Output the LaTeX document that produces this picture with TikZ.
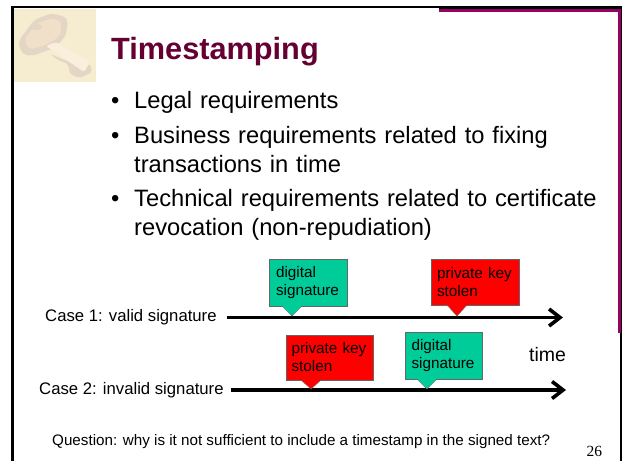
\documentclass[tikz,border=0pt]{standalone}
\usepackage{fontspec}
\setmainfont{Liberation Sans}
\newfontfamily\numfont{Liberation Serif}
\usetikzlibrary{arrows.meta}
\definecolor{maroon}{RGB}{102,0,51}
\definecolor{framepink}{RGB}{153,0,102}
\definecolor{siggreen}{RGB}{0,204,153}
\definecolor{keybg}{RGB}{246,236,208}
\definecolor{keyhead}{RGB}{240,224,202}
\definecolor{keyshade}{RGB}{228,214,196}
\definecolor{keylight}{RGB}{250,238,220}
\tikzstyle{title} = [anchor=base west, inner sep=0pt, font=\bfseries\fontsize{30.7}{30}\selectfont, text=maroon]
\tikzstyle{bullet} = [anchor=base west, inner sep=0pt, font=\fontsize{23.7}{29}\selectfont, text width=485pt, align=left]
\tikzstyle{label} = [anchor=base west, inner sep=0pt, font=\fontsize{16.7}{18}\selectfont]
\tikzstyle{sigbox} = [rectangle, draw=black!60, fill=siggreen, inner sep=0pt, font=\fontsize{15.3}{18}\selectfont, align=left, text width=64pt]
\tikzstyle{keybox} = [rectangle, draw=black!60, fill=red, inner sep=0pt, font=\fontsize{15.3}{18}\selectfont, align=left, text width=76pt]
\tikzstyle{arrow} = [line width=3.6pt, -{Straight Barb[length=11pt, width=17pt]}]

\begin{document}
\begin{tikzpicture}[x=1pt, y=-1pt]
\useasboundingbox (0,0) rectangle (622,461);
\fill[white] (0,0) rectangle (622,461);

%% frame
\fill[black] (11,6) rectangle (622,8);
\fill[black] (11,6) rectangle (14,461);
\fill[black] (439,6) rectangle (622,9);
\fill[black] (619.5,6) rectangle (621.5,461);
\fill[black] (620.5,6) rectangle (622,333);
\fill[framepink] (439,9) rectangle (620.5,12);
\fill[framepink] (618,9) rectangle (620.5,333);

%% key picture
\fill[keybg] (14,9) rectangle (96,82);
\fill[keyshade, rounded corners=5pt] (18,42) -- (34,20) -- (52,13) -- (68,18) -- (66,36) -- (54,48) -- (32,56) -- (22,54) -- cycle;
\fill[keyhead, rounded corners=4pt] (24,40) -- (36,24) -- (52,18) -- (62,22) -- (60,36) -- (48,44) -- (30,50) -- cycle;
\fill[keyshade] (36,27) ellipse (6pt and 3pt);
\fill[keyshade, rounded corners=2pt] (50,54) -- (58,60) -- (68,64) -- (70,74) -- (80,78) -- (92,72) -- (90,64) -- (70,62) -- cycle;
\fill[keylight, rounded corners=2pt] (46,46) -- (56,42) -- (90,62) -- (84,72) -- cycle;

%% title and bullets
\node (titletext) [title] at (111,59) {Timestamping};
\node (dot1) [bullet] at (111,108) {•};
\node (bul1) [bullet] at (134,108) {Legal requirements};
\node (dot2) [bullet] at (111,143) {•};
\node (bul2) [bullet] at (134,143) {Business requirements related to fixing\\transactions in time};
\node (dot3) [bullet] at (111,206) {•};
\node (bul3) [bullet] at (134,206) {Technical requirements related to certificate\\revocation (non-repudiation)};

%% timelines
\coordinate (start1) at (227,317.5);
\coordinate (end1) at (563,317.5);
\coordinate (start2) at (231,390);
\coordinate (end2) at (566,390);
\coordinate (tip1) at (292,316);
\coordinate (tip2) at (457,316);
\coordinate (tip3) at (311,389);
\coordinate (tip4) at (427,389);

\node (case1) [label] at (45,321) {Case 1: valid signature};
\node (case2) [label] at (39,394) {Case 2: invalid signature};
\node (timetext) [label, font=\fontsize{19.5}{20}\selectfont] at (529,361) {time};

\draw [arrow] (start1) -- (end1);
\draw [arrow] (start2) -- (end2);

\node (sig1) [sigbox, minimum width=78pt, minimum height=47pt] at (308,282.5) {digital\\signature};
\node (stolen1) [keybox, minimum width=88pt, minimum height=46pt] at (475,282) {private key\\stolen};
\node (stolen2) [keybox, minimum width=87pt, minimum height=45pt] at (329.5,357.5) {private key\\stolen};
\node (sig2) [sigbox, minimum width=77pt, minimum height=47pt] at (443.5,355.5) {digital\\signature};

%% pointers
\foreach \callbox/\tipname/\tipcol in {sig1/tip1/siggreen, stolen1/tip2/red, stolen2/tip3/red, sig2/tip4/siggreen}{
  \fill[\tipcol] (\callbox.south -| \tipname) ++(-10,-0.5) -- (\tipname) -- ([shift={(10,-0.5)}]\callbox.south -| \tipname) -- cycle;
  \draw[black!60] (\callbox.south -| \tipname) ++(-10,0) -- (\tipname) -- ([shift={(10,0)}]\callbox.south -| \tipname);
}

%% footer
\node (question) [label, font=\fontsize{15.2}{16}\selectfont] at (52,445) {Question: why is it not sufficient to include a timestamp in the signed text?};
\node (pagenum) [anchor=base west, inner sep=0pt, font=\numfont\fontsize{15.5}{16}\selectfont] at (586.5,456) {26};
\end{tikzpicture}
\end{document}
